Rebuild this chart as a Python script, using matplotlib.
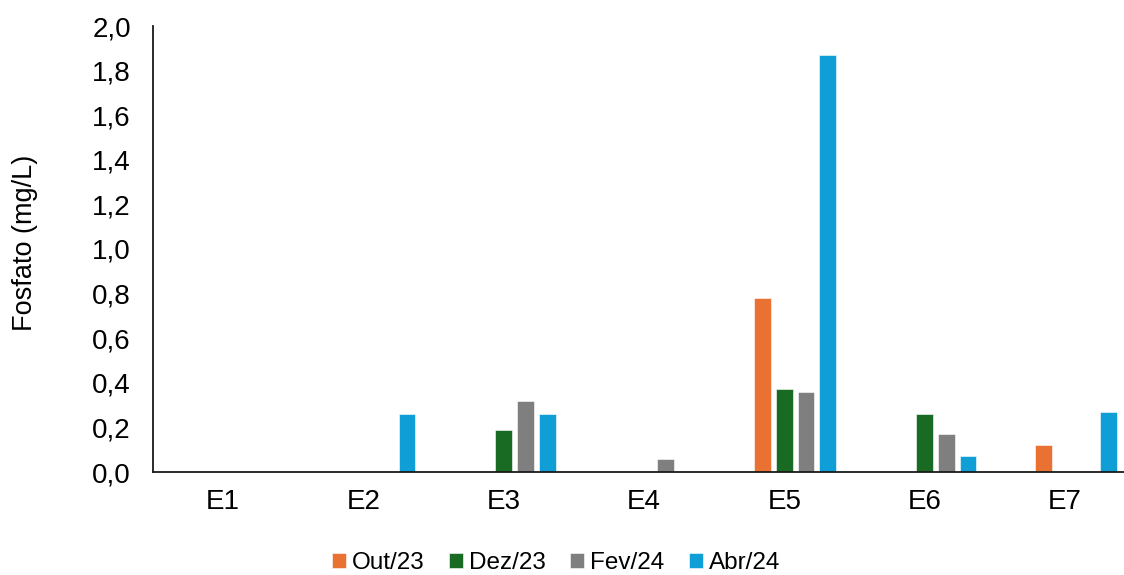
import numpy as np
import matplotlib
matplotlib.use("Agg")
import matplotlib.pyplot as plt
from matplotlib.ticker import FuncFormatter

plt.rcParams['font.family'] = ['Liberation Sans', 'DejaVu Sans']

estacoes = ['E1', 'E2', 'E3', 'E4', 'E5', 'E6', 'E7']
series = ['Out/23', 'Dez/23', 'Fev/24', 'Abr/24']
out23 = [0, 0, 0, 0, 0.78, 0, 0.12]
dez23 = [0, 0, 0.19, 0, 0.37, 0.26, 0]
fev24 = [0, 0, 0.32, 0.06, 0.36, 0.17, 0]
abr24 = [0, 0.26, 0.26, 0, 1.87, 0.07, 0.27]
cores = ['#E97132', '#196B24', '#7F7F7F', '#0F9ED5']

fig = plt.figure(figsize=(11.24, 5.75), dpi=100)
ax = fig.add_axes([153 / 1124, 103 / 575, 982 / 1124, 446 / 575])

x = np.arange(len(estacoes))
step = 0.155
w = 0.12
for i, (vals, nome) in enumerate(zip([out23, dez23, fev24, abr24], series)):
    ax.bar(x + (i - 1) * step, vals, width=w, color=cores[i], label=nome,
           edgecolor='white', linewidth=0.4)

ax.set_xlim(-0.5, 6.5)
ax.set_ylim(0, 2.0)
ax.set_yticks(np.arange(0, 2.01, 0.2))
ax.yaxis.set_major_formatter(FuncFormatter(lambda v, p: f'{v:.1f}'.replace('.', ',')))
ax.set_xticks(x)
ax.set_xticklabels(estacoes)
ax.tick_params(axis='both', length=0, labelsize=20)
ax.tick_params(axis='y', pad=16)
ax.tick_params(axis='x', pad=12)
for s in ['top', 'right']:
    ax.spines[s].set_visible(False)
for s in ['left', 'bottom']:
    ax.spines[s].set_linewidth(1.3)
    ax.spines[s].set_color('#1a1a1a')

fig.text(25 / 1124, 1 - 243 / 575, 'Fosfato (mg/L)', rotation=90,
         ha='center', va='center', fontsize=19.5)

fig.legend(loc='center', bbox_to_anchor=(556 / 1124, 1 - 563 / 575), ncol=4,
           frameon=False, fontsize=17.5, handlelength=0.58, handleheight=0.58,
           handletextpad=0.25, columnspacing=1.0, borderpad=0.2)

fig.savefig('out.png', dpi=100)
